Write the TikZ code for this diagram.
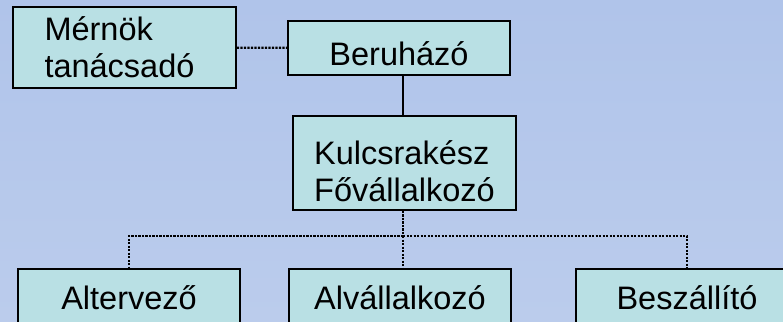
\documentclass[tikz,border=0pt]{standalone}
\usepackage{fontspec}
\setmainfont{Liberation Sans}
\definecolor{bgtop}{RGB}{176,196,234}
\definecolor{bgbot}{RGB}{187,204,236}
\definecolor{boxfill}{RGB}{185,224,228}
\begin{document}
\begin{tikzpicture}[x=1pt, y=-1pt,
	every node/.style={font=\fontsize{32.5}{37}\selectfont},
	box/.style={draw, line width=1.6pt, fill=boxfill, inner sep=0pt, text depth=0pt},
	dots/.style={line width=2.2pt, dash pattern=on 2.2pt off 1.3pt}]
	\clip (0,0) rectangle (783,321);
	\shade[top color=bgtop, bottom color=bgbot] (0,0) rectangle (783,321);

	\node[box, minimum width=223pt, minimum height=81pt, text width=160pt, inner xsep=31.5pt, align=left, text height=0pt, text depth=13pt] (mernok) at (124.5,47.5) {Mérnök\\tanácsadó};
	\node[box, minimum width=222pt, minimum height=54pt, text height=34pt] (beru) at (399,48) {Beruházó};
	\node[box, minimum width=223pt, minimum height=94pt, align=left, text height=76pt] (kulcs) at (404.5,163) {Kulcsrakész\\Fővállalkozó};
	\node[box, minimum width=222pt, minimum height=58pt, text height=22pt] (alter) at (129,298) {Altervező};
	\node[box, minimum width=222pt, minimum height=58pt, text height=22pt] (alval) at (400,298) {Alvállalkozó};
	\node[box, minimum width=222pt, minimum height=58pt, text height=22pt] (besz) at (687,298) {Beszállító};

	\coordinate (bus) at (403,236);
	\draw[dots] (mernok) -- (beru);
	\draw[line width=1.6pt] (kulcs.north -| bus) -- (beru.south -| bus);
	\draw[dots] (kulcs.south -| bus) -- (bus);
	\draw[dots] (bus) -| (alter);
	\draw[dots] (bus) -- (bus |- alval.north);
	\draw[dots] (bus) -| (besz);
\end{tikzpicture}
\end{document}
